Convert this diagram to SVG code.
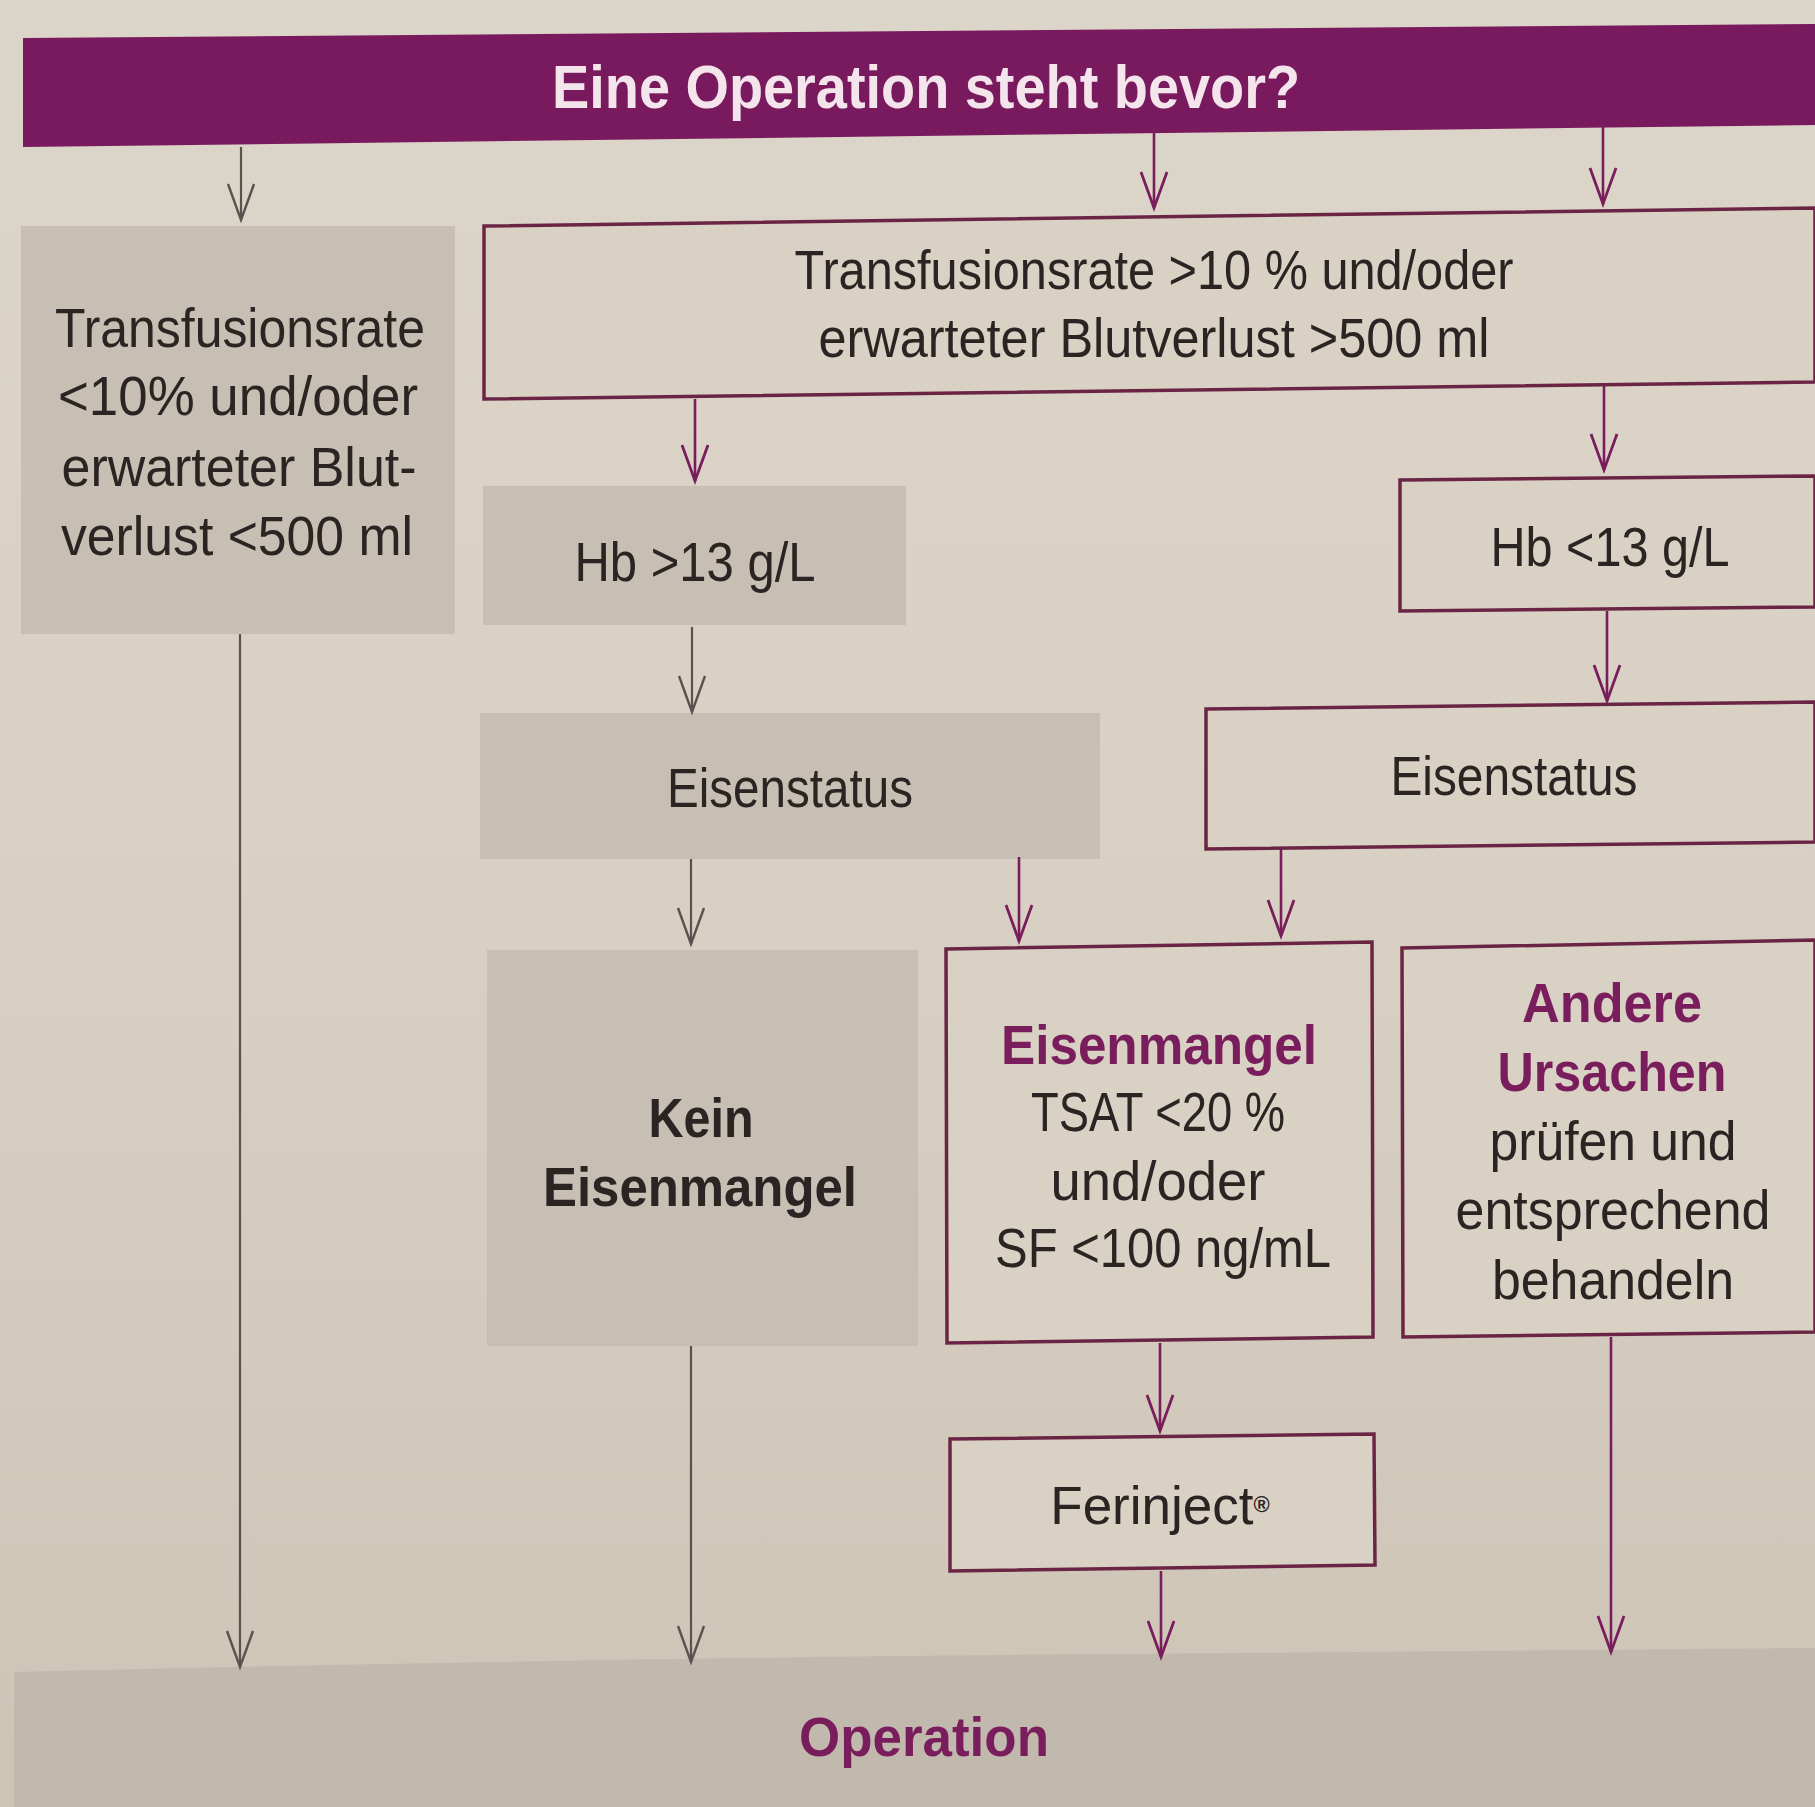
<svg xmlns="http://www.w3.org/2000/svg" width="1815" height="1807" viewBox="0 0 1815 1807">
<style>
.t{font-family:"Liberation Sans","DejaVu Sans",sans-serif;font-size:56px;fill:#2a2423;text-anchor:middle}
.b{font-weight:bold}
.p{fill:#7a1d5c}
.gbox{fill:#c8bfb4}
.wbox{fill:#d9d1c4;stroke:#6a2545;stroke-width:3.5}
.cg{stroke:#5b514f;stroke-width:2.2;fill:none}
.cp{stroke:#7a1d5c;stroke-width:2.6;fill:none}
</style>
<defs>
<linearGradient id="bg" x1="0" y1="0" x2="0" y2="1">
<stop offset="0" stop-color="#dcd5c9"/>
<stop offset="0.5" stop-color="#d8d0c3"/>
<stop offset="1" stop-color="#cdc4b6"/>
</linearGradient>
<marker id="ag" markerUnits="userSpaceOnUse" markerWidth="50" markerHeight="40" viewBox="-40 -20 50 40" refX="0" refY="0" orient="auto">
<path d="M-36,-13 L0,0 L-36,13" fill="none" stroke="#5b514f" stroke-width="2.4"/>
</marker>
<marker id="ap" markerUnits="userSpaceOnUse" markerWidth="50" markerHeight="40" viewBox="-40 -20 50 40" refX="0" refY="0" orient="auto">
<path d="M-36,-13 L0,0 L-36,13" fill="none" stroke="#7a1d5c" stroke-width="2.8"/>
</marker>
</defs>
<rect x="0" y="0" width="1815" height="1807" fill="url(#bg)"/>

<g id="banner">
<polygon points="23,38 1815,24 1815,125 23,147" fill="#7a1a5e"/>
<text class="t b" x="926" y="108" style="font-size:62px;fill:#f4e4ec" textLength="748" lengthAdjust="spacingAndGlyphs">Eine Operation steht bevor?</text>
</g>

<g id="low">
<rect class="gbox" x="21" y="226" width="434" height="408"/>
<text class="t" x="240" y="347" textLength="370" lengthAdjust="spacingAndGlyphs">Transfusionsrate</text>
<text class="t" x="238" y="415" textLength="360" lengthAdjust="spacingAndGlyphs">&lt;10% und/oder</text>
<text class="t" x="239" y="486" textLength="355" lengthAdjust="spacingAndGlyphs">erwarteter Blut-</text>
<text class="t" x="237" y="555" textLength="352" lengthAdjust="spacingAndGlyphs">verlust &lt;500 ml</text>
</g>

<g id="high">
<polygon class="wbox" points="484,226 1815,208 1815,382 484,399"/>
<text class="t" x="1154" y="289" textLength="719" lengthAdjust="spacingAndGlyphs">Transfusionsrate &gt;10 % und/oder</text>
<text class="t" x="1154" y="357" textLength="671" lengthAdjust="spacingAndGlyphs">erwarteter Blutverlust &gt;500 ml</text>
</g>

<g id="hbhigh">
<rect class="gbox" x="483" y="486" width="423" height="139"/>
<text class="t" x="695" y="581" textLength="241" lengthAdjust="spacingAndGlyphs">Hb &gt;13 g/L</text>
</g>

<g id="hblow">
<polygon class="wbox" points="1400,480 1815,476 1815,607 1400,611"/>
<text class="t" x="1610" y="566" textLength="239" lengthAdjust="spacingAndGlyphs">Hb &lt;13 g/L</text>
</g>

<g id="eisen1">
<rect class="gbox" x="480" y="713" width="620" height="146"/>
<text class="t" x="790" y="807" textLength="246" lengthAdjust="spacingAndGlyphs">Eisenstatus</text>
</g>

<g id="eisen2">
<polygon class="wbox" points="1206,709 1815,702 1815,842 1206,849"/>
<text class="t" x="1514" y="795" textLength="247" lengthAdjust="spacingAndGlyphs">Eisenstatus</text>
</g>

<g id="kein">
<rect class="gbox" x="487" y="950" width="431" height="396"/>
<text class="t b" x="701" y="1137" textLength="105" lengthAdjust="spacingAndGlyphs">Kein</text>
<text class="t b" x="700" y="1206" textLength="314" lengthAdjust="spacingAndGlyphs">Eisenmangel</text>
</g>

<g id="mangel">
<polygon class="wbox" points="946,949 1372,942 1373,1337 947,1343"/>
<text class="t b p" x="1159" y="1064" textLength="316" lengthAdjust="spacingAndGlyphs">Eisenmangel</text>
<text class="t" x="1158" y="1131" textLength="254" lengthAdjust="spacingAndGlyphs">TSAT &lt;20 %</text>
<text class="t" x="1158" y="1200" textLength="215" lengthAdjust="spacingAndGlyphs">und/oder</text>
<text class="t" x="1163" y="1267" textLength="336" lengthAdjust="spacingAndGlyphs">SF &lt;100 ng/mL</text>
</g>

<g id="andere">
<polygon class="wbox" points="1402,948 1815,940 1815,1332 1403,1337"/>
<text class="t b p" x="1612" y="1022" textLength="180" lengthAdjust="spacingAndGlyphs">Andere</text>
<text class="t b p" x="1612" y="1091" textLength="229" lengthAdjust="spacingAndGlyphs">Ursachen</text>
<text class="t" x="1613" y="1160" textLength="247" lengthAdjust="spacingAndGlyphs">prüfen und</text>
<text class="t" x="1613" y="1229" textLength="315" lengthAdjust="spacingAndGlyphs">entsprechend</text>
<text class="t" x="1613" y="1299" textLength="242" lengthAdjust="spacingAndGlyphs">behandeln</text>
</g>

<g id="ferinject">
<polygon class="wbox" points="950,1439 1374,1434 1375,1565 950,1571"/>
<text class="t" x="1160" y="1524" style="font-size:53px">Ferinject<tspan baseline-shift="super" style="font-size:22px;font-weight:bold">®</tspan></text>
</g>

<g id="operation">
<path d="M14,1672 Q500,1660 1000,1655 L1815,1648 L1815,1807 L14,1807 Z" fill="#c2b9ae"/>
<text class="t b p" x="924" y="1756" textLength="250" lengthAdjust="spacingAndGlyphs">Operation</text>
</g>

<g id="connectors">
<line class="cg" x1="241" y1="147" x2="241" y2="220" marker-end="url(#ag)"/>
<line class="cp" x1="1154" y1="128" x2="1154" y2="208" marker-end="url(#ap)"/>
<line class="cp" x1="1603" y1="126" x2="1603" y2="204" marker-end="url(#ap)"/>
<line class="cp" x1="695" y1="399" x2="695" y2="481" marker-end="url(#ap)"/>
<line class="cp" x1="1604" y1="386" x2="1604" y2="470" marker-end="url(#ap)"/>
<line class="cg" x1="240" y1="634" x2="240" y2="1667" marker-end="url(#ag)"/>
<line class="cg" x1="692" y1="627" x2="692" y2="712" marker-end="url(#ag)"/>
<line class="cp" x1="1607" y1="611" x2="1607" y2="701" marker-end="url(#ap)"/>
<line class="cg" x1="691" y1="859" x2="691" y2="944" marker-end="url(#ag)"/>
<line class="cp" x1="1019" y1="857" x2="1019" y2="941" marker-end="url(#ap)"/>
<line class="cp" x1="1281" y1="849" x2="1281" y2="936" marker-end="url(#ap)"/>
<line class="cg" x1="691" y1="1346" x2="691" y2="1662" marker-end="url(#ag)"/>
<line class="cp" x1="1160" y1="1343" x2="1160" y2="1431" marker-end="url(#ap)"/>
<line class="cp" x1="1161" y1="1571" x2="1161" y2="1657" marker-end="url(#ap)"/>
<line class="cp" x1="1611" y1="1337" x2="1611" y2="1652" marker-end="url(#ap)"/>
</g>
</svg>
